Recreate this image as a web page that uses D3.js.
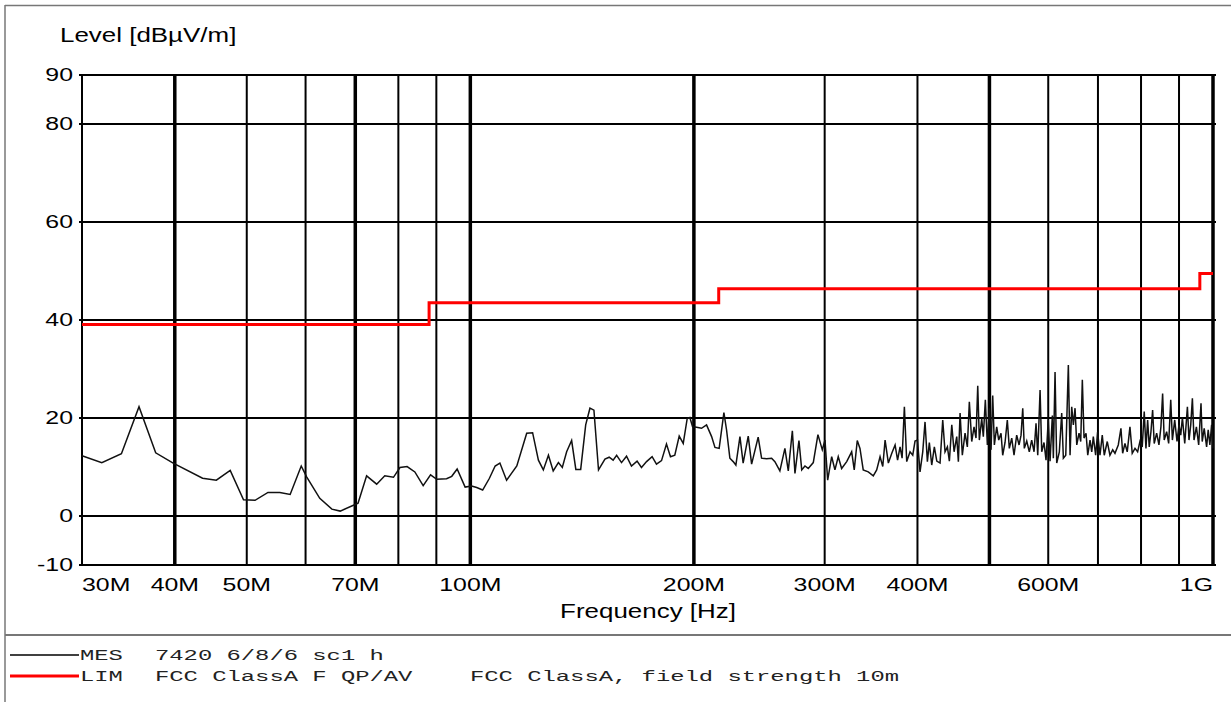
<!DOCTYPE html>
<html>
<head>
<meta charset="utf-8">
<script src="https://cdn.jsdelivr.net/npm/d3@7"></script>
<style>
  html, body { margin: 0; padding: 0; background: #fff; }
  svg { display: block; }
</style>
</head>
<body>
<svg id="chart" width="1231" height="702"></svg>
<script>
// ---------------- DATA ----------------
const yTickValues = [-10, 0, 20, 40, 60, 80, 90];
const xTickValues = [30, 40, 50, 70, 100, 200, 300, 400, 600, 1000];
const xTickLabels = ["30M", "40M", "50M", "70M", "100M", "200M", "300M", "400M", "600M", "1G"];
const xGridThin = [50, 60, 80, 90, 300, 400, 600, 700, 800, 900];
const xGridThick = [40, 70, 100, 200, 500, 1000];

// Limit line FCC Class A, 10 m (MHz, dBuV/m), step after
const limFreq = [30, 88, 216, 960, 1000];
const limLevel = [39.1, 43.5, 46.4, 49.5, 49.5];

// Measurement trace (MHz)
const mesFreq = [
  30.0,31.9,33.9,35.8,37.7,39.8,43.6,45.5,47.5,49.5,
  51.3,53.4,55.4,57.2,59.2,60.2,62.7,65.1,66.8,69.6,
  70.6,72.5,74.8,76.7,78.8,80.4,82.2,84.2,86.4,88.4,
  90.1,92.9,94.4,96.0,98.4,100.4,102.0,103.9,106.1,108.0,
  109.6,111.9,115.5,119.1,121.3,123.5,125.4,127.4,129.3,131.4,
  133.0,134.8,136.9,138.7,140.8,143.0,144.9,146.7,148.8,151.8,
  153.8,155.7,157.4,159.8,162.3,164.8,167.7,170.0,172.7,175.7,
  178.1,180.9,183.7,186.0,188.5,191.1,193.5,195.9,197.5,199.2,
  201.7,204.8,208.0,211.3,213.5,216.3,219.5,221.3,223.6,225.9,
  227.8,230.7,233.0,236.7,239.2,244.1,246.7,250.6,254.5,257.1,
  261.1,265.2,268.0,271.4,273.6,277.0,279.4,282.2,285.1,289.6,
  293.8,297.8,300.3,302.8,306.6,309.7,312.9,316.2,321.2,326.2,
  328.8,331.9,334.7,338.1,343.4,348.8,352.5,356.2,359.2,361.8,
  365.5,369.4,373.2,376.1,379.0,381.4,384.1,386.9,390.9,394.2,
  397.0,400.0,403.2,406.6,409.5,412.5,415.0,418.1,421.5,424.7,
  429.0,432.6,435.7,438.9,441.6,444.9,448.1,451.8,454.1,456.5,
  459.7,463.6,466.9,469.8,473.3,476.7,479.6,482.2,484.6,488.2,
  490.6,493.7,496.8,500.0,502.5,505.1,507.7,511.4,514.6,518.3,
  521.0,524.8,528.5,531.8,535.8,539.6,544.1,548.1,551.5,554.4,
  557.1,561.3,565.8,570.0,574.2,577.7,580.8,585.0,588.0,592.2,
  595.9,600.0,603.4,607.7,609.6,612.8,616.0,621.0,625.6,628.8,
  633.5,638.6,642.0,645.3,648.6,652.0,655.5,660.1,663.6,666.9,
  670.4,674.6,678.2,683.0,686.6,690.0,695.0,699.3,704.4,709.4,
  713.8,720.5,726.5,732.7,737.9,745.5,751.7,755.7,761.1,766.5,
  773.0,778.5,785.2,791.6,797.3,803.0,808.0,812.3,816.6,820.6,
  825.0,829.3,833.4,839.7,845.7,850.9,855.4,859.6,866.1,871.6,
  877.2,881.7,888.1,894.4,900.0,904.8,909.5,916.1,923.7,928.3,
  933.3,938.1,942.8,949.8,956.6,963.5,967.1,973.1,980.4,985.2,
  990.4,995.7,1000
];
// Measurement trace (dBuV/m)
const mesLevel = [
  12.3,10.9,12.7,22.3,12.9,10.8,7.7,7.3,9.3,3.3,
  3.2,4.8,4.8,4.4,10.2,8.0,3.6,1.4,1.0,2.2,
  2.6,8.2,6.5,8.2,7.9,9.9,10.1,9.0,6.2,8.4,
  7.5,7.6,8.1,9.6,5.9,6.1,5.8,5.3,7.7,10.2,
  10.8,7.3,10.2,16.9,17.0,11.4,9.4,12.4,9.2,10.9,
  9.9,13.1,15.4,9.5,9.5,18.6,22.0,21.6,9.4,11.6,
  12.0,11.4,12.4,10.9,12.2,10.2,11.2,9.9,11.1,12.1,
  10.6,11.3,14.7,12.1,12.4,16.3,14.8,19.9,20.1,18.2,
  18.1,17.9,18.6,16.2,14.0,13.8,21.1,17.6,11.8,11.1,
  10.4,16.2,10.8,16.3,10.6,16.1,11.8,11.7,11.8,11.1,
  9.2,13.8,9.2,17.4,8.7,15.4,9.4,10.2,9.7,10.9,
  16.6,13.5,15.5,7.3,12.1,9.4,12.1,9.7,11.1,13.1,
  9.4,15.4,13.8,9.4,9.0,8.2,9.4,12.1,10.1,15.5,
  10.8,12.8,14.5,11.4,14.1,11.8,22.3,11.1,13.1,12.4,
  15.3,15.5,9.0,13.1,19.2,11.1,15.0,10.4,14.1,11.2,
  10.8,19.6,13.1,14.1,11.2,18.6,13.1,16.2,11.1,21.0,
  12.4,16.9,14.1,23.3,15.2,18.2,15.9,26.6,15.5,19.9,
  16.2,23.7,14.5,22.0,13.5,24.6,14.5,18.2,15.5,16.9,
  12.4,15.0,19.6,13.8,15.9,12.4,16.5,14.5,16.5,22.0,
  13.8,15.3,13.1,15.5,13.1,18.9,12.4,25.7,13.1,15.0,
  11.4,19.6,11.2,20.5,11.8,29.4,10.8,13.1,21.0,11.8,
  12.4,30.8,12.4,22.3,18.6,22.0,14.5,16.9,15.2,27.8,
  15.9,16.9,12.4,15.5,13.1,16.2,12.4,17.2,12.4,16.5,
  12.4,15.2,12.4,13.5,12.8,14.5,17.9,12.8,14.8,13.1,
  18.2,12.8,13.8,13.1,15.2,14.1,21.3,13.8,19.6,14.1,
  17.2,21.6,14.8,16.9,14.5,18.2,25.0,15.5,17.2,14.8,
  23.7,15.5,19.6,15.2,18.6,16.5,20.1,14.8,22.3,15.5,
  18.6,24.0,15.5,18.2,14.5,23.0,15.2,17.9,14.1,17.6,
  14.5,18.6,13.8
];

const yAxisTitle = "Level [dBµV/m]";
const xAxisTitle = "Frequency [Hz]";
const legendMes = ["MES", "7420 6/8/6 sc1 h"];
const legendLim = ["LIM", "FCC ClassA F QP/AV", "FCC ClassA, field strength 10m"];

// ---------------- DRAW ----------------
const svg = d3.select("#chart");
const L = 82, R = 1213, T = 75, B = 565;
const x = d3.scaleLog().domain([30, 1000]).range([L, R]);
const y = d3.scaleLinear().domain([-10, 90]).range([B, T]);

const sans = "'Liberation Sans', Arial, Helvetica, sans-serif";
const mono = "'Liberation Mono', 'Courier New', monospace";

// outer frame
svg.append("line").attr("x1", 5).attr("x2", 1231).attr("y1", 5.5).attr("y2", 5.5)
  .attr("stroke", "#777").attr("stroke-width", 1.5);
svg.append("line").attr("x1", 5).attr("x2", 5).attr("y1", 5).attr("y2", 702)
  .attr("stroke", "#777").attr("stroke-width", 1.5);
svg.append("line").attr("x1", 5).attr("x2", 1231).attr("y1", 635).attr("y2", 635)
  .attr("stroke", "#777").attr("stroke-width", 2);

const grid = svg.append("g");
// horizontal grid
grid.selectAll("line.h").data(yTickValues).join("line")
  .attr("x1", L - 3).attr("x2", R + 3)
  .attr("y1", d => y(d)).attr("y2", d => y(d))
  .attr("stroke", "#000").attr("stroke-width", 2);
// vertical grid
grid.selectAll("line.vt").data(xGridThin.concat([30])).join("line")
  .attr("x1", d => x(d)).attr("x2", d => x(d))
  .attr("y1", T).attr("y2", B)
  .attr("stroke", "#000").attr("stroke-width", 2);
grid.selectAll("line.vk").data(xGridThick).enter().append("line")
  .attr("x1", d => x(d)).attr("x2", d => x(d))
  .attr("y1", T).attr("y2", B)
  .attr("stroke", "#000").attr("stroke-width", 3.5);

// y labels
const numFs = 17.5, numSx = 1.42;
svg.append("g").selectAll("text").data(yTickValues).join("text")
  .attr("transform", d => `translate(73,${y(d) + 6}) scale(${numSx},1)`)
  .attr("text-anchor", "end")
  .attr("font-family", sans).attr("font-size", numFs).attr("fill", "#000")
  .text(d => d);

// x labels
svg.append("g").selectAll("text").data(xTickValues).join("text")
  .attr("transform", d => `translate(${x(d)},591) scale(${numSx},1)`)
  .attr("text-anchor", (d, i) => i === 0 ? "start" : (i === xTickValues.length - 1 ? "end" : "middle"))
  .attr("font-family", sans).attr("font-size", numFs).attr("fill", "#000")
  .text((d, i) => xTickLabels[i]);

// titles
const titleSx = 1.33, titleFs = 19.5;
svg.append("text")
  .attr("transform", `translate(60,42) scale(${titleSx},1)`)
  .attr("font-family", sans).attr("font-size", titleFs).attr("fill", "#000")
  .text(yAxisTitle);
svg.append("text")
  .attr("transform", `translate(648,618) scale(${titleSx},1)`)
  .attr("text-anchor", "middle")
  .attr("font-family", sans).attr("font-size", titleFs).attr("fill", "#000")
  .text(xAxisTitle);

// limit line
const limData = limFreq.map((f, i) => [f, limLevel[i]]);
svg.append("path").datum(limData)
  .attr("d", d3.line().x(d => x(d[0])).y(d => y(d[1])).curve(d3.curveStepAfter))
  .attr("fill", "none").attr("stroke", "#ff0000").attr("stroke-width", 3);

// measurement line
const mesData = mesFreq.map((f, i) => [f, mesLevel[i]]);
svg.append("path").datum(mesData)
  .attr("d", d3.line().x(d => x(d[0])).y(d => y(d[1])))
  .attr("fill", "none").attr("stroke", "#111").attr("stroke-width", 1.5)
  .attr("stroke-linejoin", "miter");

// legend
const legSx = 1.59, legFs = 15;
svg.append("line").attr("x1", 10).attr("x2", 79).attr("y1", 655).attr("y2", 655)
  .attr("stroke", "#000").attr("stroke-width", 1.5);
svg.append("line").attr("x1", 10).attr("x2", 79).attr("y1", 676).attr("y2", 676)
  .attr("stroke", "#ff0000").attr("stroke-width", 3);
const legItems = [
  [80, 660, legendMes[0]], [155, 660, legendMes[1]],
  [80, 681, legendLim[0]], [155, 681, legendLim[1]], [470, 681, legendLim[2]]
];
svg.append("g").selectAll("text").data(legItems).join("text")
  .attr("transform", d => `translate(${d[0]},${d[1]}) scale(${legSx},1)`)
  .attr("font-family", mono).attr("font-size", legFs).attr("fill", "#222")
  .text(d => d[2]);
</script>
</body>
</html>
